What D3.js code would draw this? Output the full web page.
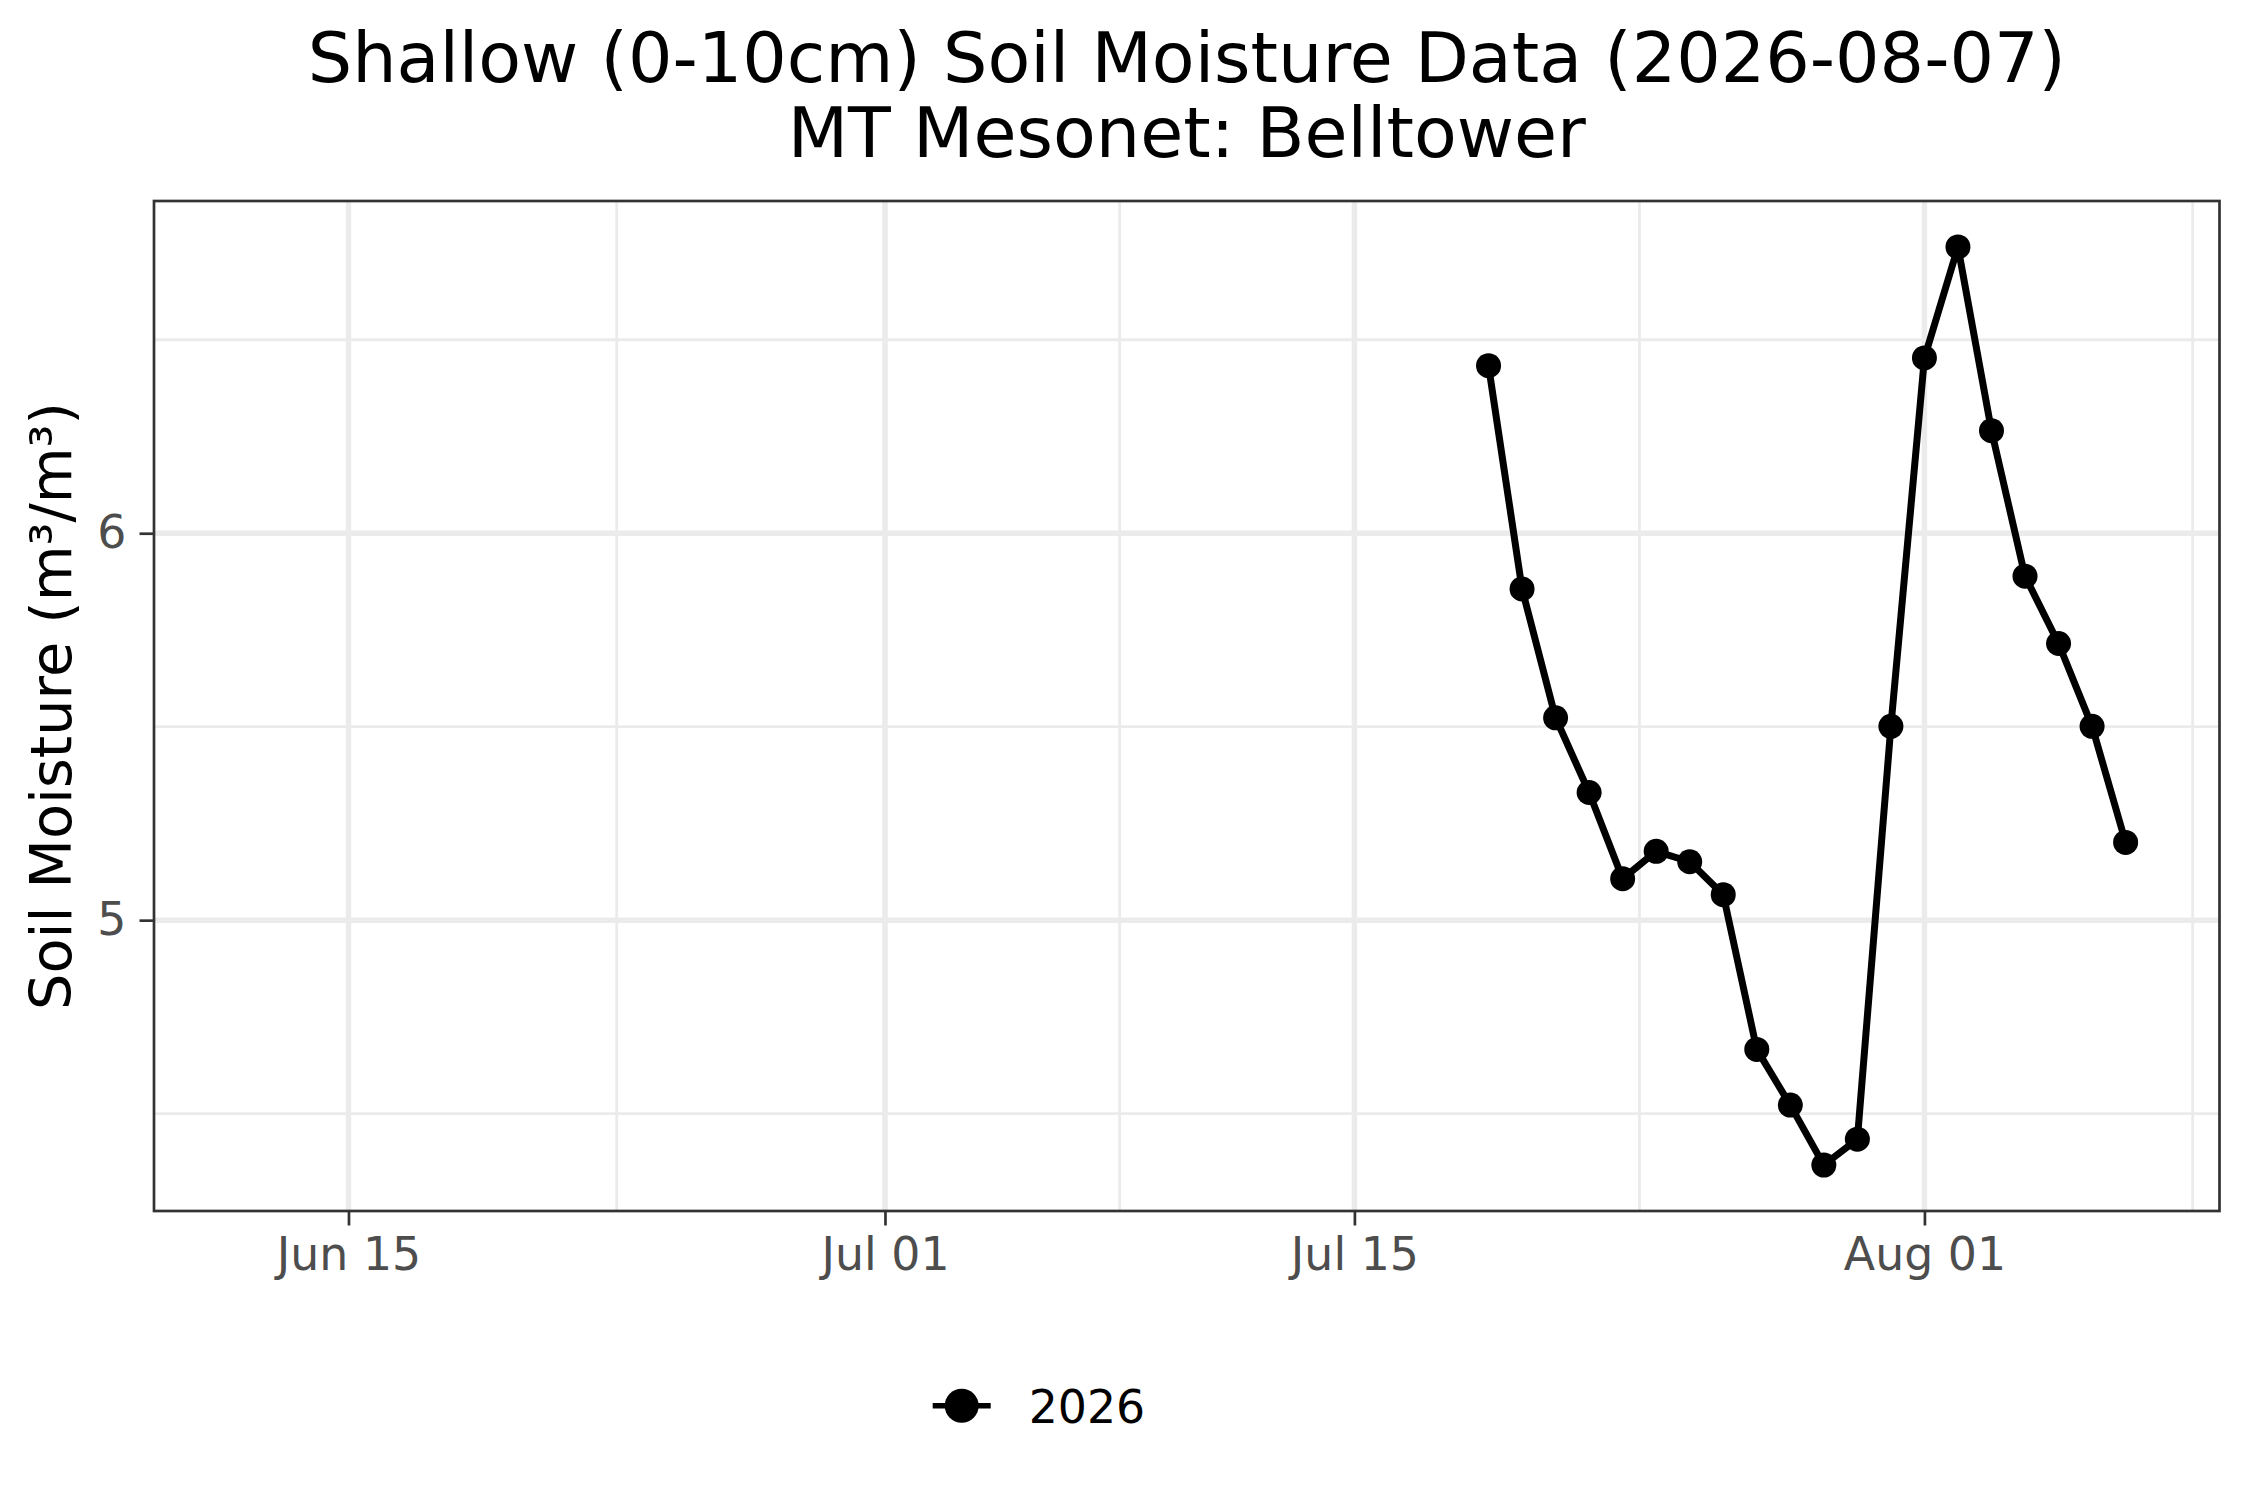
<!DOCTYPE html>
<html>
<head>
<meta charset="utf-8">
<script src="https://cdn.jsdelivr.net/npm/d3@7"></script>
<style>
  body { margin: 0; background: #fff; }
  text { font-family: "DejaVu Sans", sans-serif; }
</style>
</head>
<body>
<div id="chart"></div>
<script>
// data
const dates = ["2026-07-19", "2026-07-20", "2026-07-21", "2026-07-22", "2026-07-23",
               "2026-07-24", "2026-07-25", "2026-07-26", "2026-07-27", "2026-07-28",
               "2026-07-29", "2026-07-30", "2026-07-31", "2026-08-01", "2026-08-02",
               "2026-08-03", "2026-08-04", "2026-08-05", "2026-08-06", "2026-08-07"];
const moisture = [6.433, 5.856, 5.523, 5.330, 5.107,
                  5.178, 5.151, 5.066, 4.666, 4.522,
                  4.367, 4.434, 5.501, 6.453, 6.740,
                  6.265, 5.889, 5.715, 5.501, 5.201];
const xLimits = ["2026-06-12", "2026-08-07"];
const xBreaks = ["2026-06-15", "2026-07-01", "2026-07-15", "2026-08-01"];
const xMinorBreaks = ["2026-06-23", "2026-07-08", "2026-07-23T12:00:00Z", "2026-08-09"];
const yBreaks = [5, 6];
const yMinorBreaks = [4.5, 5.5, 6.5];
const seriesName = "2026";

const W = 2250, H = 1500;
const panel = {left: 154, right: 2219.5, top: 201, bottom: 1211};

const parse = s => new Date(s.length > 10 ? s : s + "T00:00:00Z");
const data = dates.map((d, i) => ({date: parse(d), value: moisture[i]}));

// ggplot-style 5% expansion
const expand = (lo, hi) => { const p = (hi - lo) * 0.05; return [lo - p, hi + p]; };
const xl = xLimits.map(parse).map(Number);
const x = d3.scaleUtc()
    .domain(expand(xl[0], xl[1]).map(v => new Date(v)))
    .range([panel.left, panel.right]);
const ext = d3.extent(moisture);
const y = d3.scaleLinear()
    .domain(expand(ext[0], ext[1]))
    .range([panel.bottom, panel.top]);

const svg = d3.select("#chart").append("svg")
    .attr("width", W)
    .attr("height", H);

svg.append("rect").attr("width", W).attr("height", H).attr("fill", "#fff");

// grid
const grid = svg.append("g");
grid.selectAll(".ymin").data(yMinorBreaks).enter().append("line")
    .attr("x1", panel.left).attr("x2", panel.right)
    .attr("y1", d => y(d)).attr("y2", d => y(d))
    .attr("stroke", "#ebebeb").attr("stroke-width", 2.8);
grid.selectAll(".xmin").data(xMinorBreaks.map(parse)).enter().append("line")
    .attr("y1", panel.top).attr("y2", panel.bottom)
    .attr("x1", d => x(d)).attr("x2", d => x(d))
    .attr("stroke", "#ebebeb").attr("stroke-width", 2.8);
grid.selectAll(".ymaj").data(yBreaks).enter().append("line")
    .attr("x1", panel.left).attr("x2", panel.right)
    .attr("y1", d => y(d)).attr("y2", d => y(d))
    .attr("stroke", "#ebebeb").attr("stroke-width", 5.5);
grid.selectAll(".xmaj").data(xBreaks.map(parse)).enter().append("line")
    .attr("y1", panel.top).attr("y2", panel.bottom)
    .attr("x1", d => x(d)).attr("x2", d => x(d))
    .attr("stroke", "#ebebeb").attr("stroke-width", 5.5);

// series
const line = d3.line().x(d => x(d.date)).y(d => y(d.value));
svg.append("path")
    .datum(data)
    .attr("d", line)
    .attr("fill", "none")
    .attr("stroke", "#000")
    .attr("stroke-width", 7)
    .attr("stroke-linejoin", "round");
svg.selectAll(".pt").data(data).enter().append("circle")
    .attr("cx", d => x(d.date))
    .attr("cy", d => y(d.value))
    .attr("r", 12.5)
    .attr("fill", "#000");

// panel border
svg.append("rect")
    .attr("x", panel.left).attr("y", panel.top)
    .attr("width", panel.right - panel.left)
    .attr("height", panel.bottom - panel.top)
    .attr("fill", "none").attr("stroke", "#333").attr("stroke-width", 2.7);

// axes
const xAxis = svg.append("g")
    .attr("transform", "translate(0," + panel.bottom + ")")
    .call(d3.axisBottom(x).tickValues(xBreaks.map(parse))
        .tickFormat(d3.utcFormat("%b %d")).tickSize(14.5).tickPadding(12));
const yAxis = svg.append("g")
    .attr("transform", "translate(" + panel.left + ",0)")
    .call(d3.axisLeft(y).tickValues(yBreaks).tickFormat(d3.format("d"))
        .tickSize(14.5).tickPadding(13));
[xAxis, yAxis].forEach(g => {
    g.select(".domain").remove();
    g.selectAll(".tick line").attr("stroke", "#333").attr("stroke-width", 2.7);
    g.selectAll(".tick text")
        .attr("fill", "#4d4d4d")
        .style("font-size", "45.8px")
        .style("font-family", "'DejaVu Sans', sans-serif");
});

// titles
const cx = (panel.left + panel.right) / 2;
svg.append("text").attr("x", cx).attr("y", 82)
    .attr("text-anchor", "middle").style("font-size", "70px")
    .text("Shallow (0-10cm) Soil Moisture Data (2026-08-07)");
svg.append("text").attr("x", cx).attr("y", 157)
    .attr("text-anchor", "middle").style("font-size", "70px")
    .text("MT Mesonet: Belltower");
svg.append("text")
    .attr("transform", "translate(71," + (panel.top + panel.bottom) / 2 + ") rotate(-90)")
    .attr("text-anchor", "middle").style("font-size", "57.3px")
    .text("Soil Moisture (m³/m³)");

// legend
const lg = svg.append("g").attr("transform", "translate(932.7,1405.7)");
lg.append("line").attr("x1", 0).attr("x2", 58).attr("y1", 0).attr("y2", 0)
    .attr("stroke", "#000").attr("stroke-width", 5.6);
lg.append("circle").attr("cx", 29).attr("cy", 0).attr("r", 17).attr("fill", "#000");
lg.append("text").attr("x", 96).attr("y", 17)
    .style("font-size", "45.8px").text(seriesName);
</script>
</body>
</html>
